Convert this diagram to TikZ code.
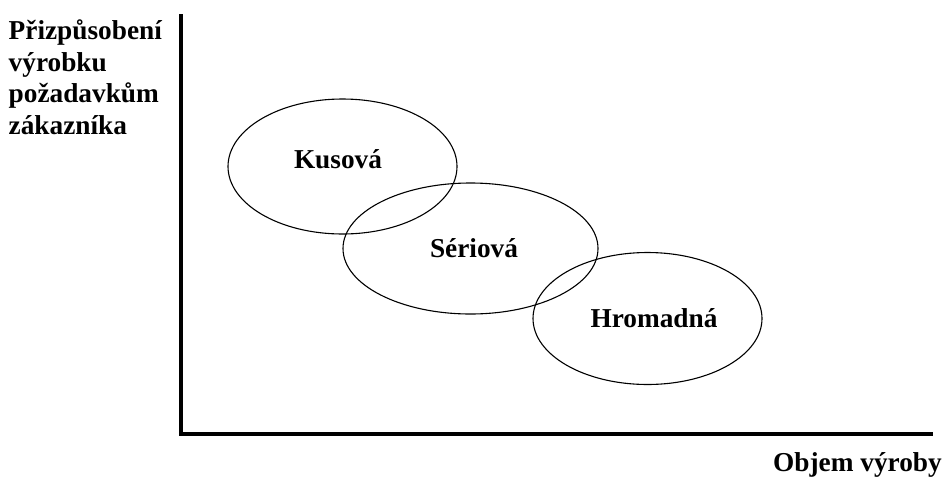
\documentclass[tikz,border=0pt]{standalone}
\usepackage{fontspec}
\setmainfont{Liberation Serif}
\usetikzlibrary{shapes.geometric}
\begin{document}
\begin{tikzpicture}[x=1pt,y=-1pt,
  lbl/.style={font=\fontsize{27.3}{31}\selectfont\bfseries, inner sep=0pt},
  oval/.style={ellipse, draw, line width=1.1pt, inner sep=0pt},
  axis/.style={line width=4pt, line join=miter}]
\useasboundingbox (0,0) rectangle (944,477);
\fill[white] (0,0) rectangle (944,477);
% axes
\coordinate (ytop) at (180.5,14);
\coordinate (orig) at (180.5,433.5);
\coordinate (xend) at (933,433.5);
\draw[axis] (ytop) -- (orig) -- (xend);
% ellipses
\node[oval, minimum width=229pt, minimum height=135pt] (kus) at (342.5,166.5) {};
\node[oval, minimum width=255pt, minimum height=131pt] (ser) at (470.5,248.5) {};
\node[oval, minimum width=229pt, minimum height=132pt] (hro) at (647.5,318.5) {};
% labels
\node[lbl, anchor=base] (tkus) at (338,168) {Kusová};
\node[lbl, anchor=base] (tser) at (474,257) {Sériová};
\node[lbl, anchor=base] (thro) at (654,327) {Hromadná};
\node[lbl, anchor=base east] (xlab) at (942,471.5) {Objem výroby};
\node[lbl, anchor=base west] (y1) at (8.5,39.5) {Přizpůsobení};
\node[lbl, anchor=base west] (y2) at (8.5,71.5) {výrobku};
\node[lbl, anchor=base west] (y3) at (8.5,102.5) {požadavkům};
\node[lbl, anchor=base west] (y4) at (8.5,134.5) {zákazníka};
\end{tikzpicture}
\end{document}
